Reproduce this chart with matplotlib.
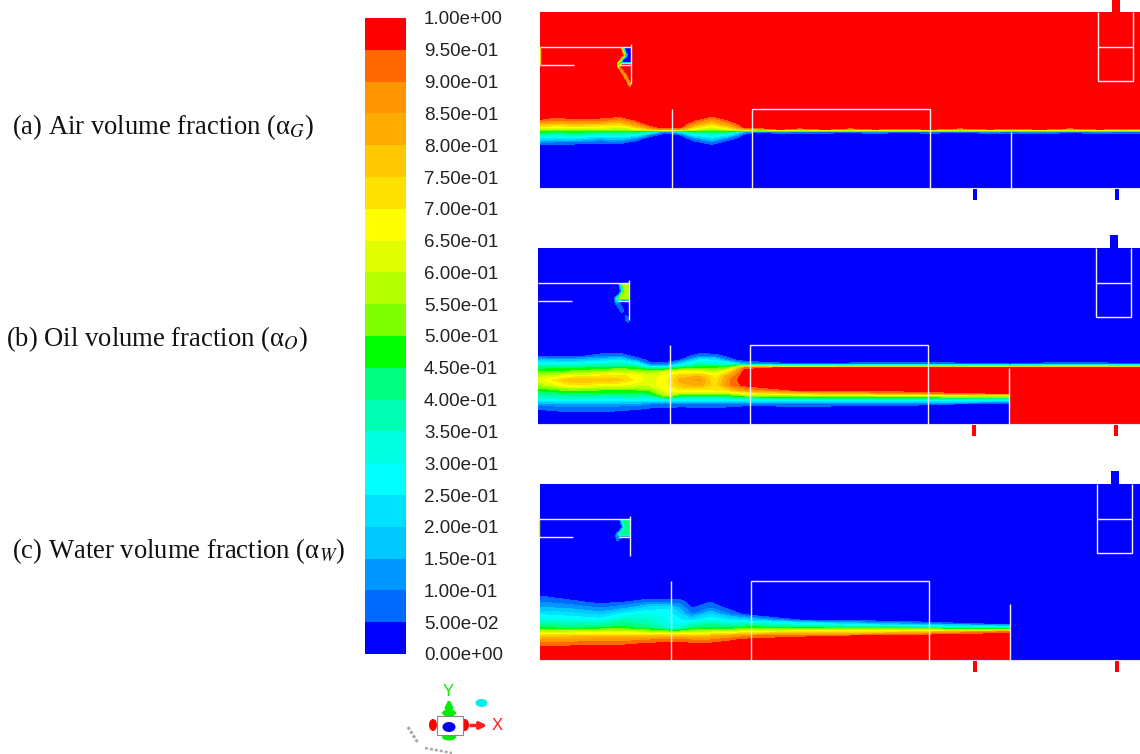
import numpy as np
import matplotlib
matplotlib.use("Agg")
import matplotlib.pyplot as plt
from matplotlib.patches import Rectangle, Ellipse

plt.rcParams["font.family"] = ["Liberation Serif", "DejaVu Serif"]
plt.rcParams["mathtext.fontset"] = "stix"

# contour bar
bar_labels = ["1.00e+00", "9.50e-01", "9.00e-01", "8.50e-01", "8.00e-01", "7.50e-01", "7.00e-01",
              "6.50e-01", "6.00e-01", "5.50e-01", "5.00e-01", "4.50e-01", "4.00e-01", "3.50e-01",
              "3.00e-01", "2.50e-01", "2.00e-01", "1.50e-01", "1.00e-01", "5.00e-02", "0.00e+00"]
# low to high
bar_colors = ["#0000ff", "#0069ff", "#0096ff", "#00c8ff", "#00e1ff", "#00ffff", "#00ffe1",
              "#00ffb4", "#00ff80", "#00ff00", "#80ff00", "#b4ff00", "#e1ff00", "#ffff00",
              "#ffe100", "#ffc800", "#ffaa00", "#ff9600", "#ff6900", "#ff0000"]
levels = [0.0, 0.05, 0.1, 0.15, 0.2, 0.25, 0.3, 0.35, 0.4, 0.45, 0.5,
          0.55, 0.6, 0.65, 0.7, 0.75, 0.8, 0.85, 0.9, 0.95, 1.0001]

# panel (a) air, one line per x station, values down the y rows
air_y = [12, 116, 120, 124, 127, 129, 130.5, 132, 135, 138, 142, 146, 188]
air_x = [540, 555, 575, 600, 620, 635, 650, 665, 680, 695, 712, 728, 745, 760, 780, 800,
         825, 850, 875, 900, 930, 960, 990, 1011, 1040, 1070, 1100, 1125, 1140]
air_field = [
    [1, 1, .94, .8, .68, .6, .52, .46, .36, .25, .12, .02, 0],
    [1, .97, .9, .78, .65, .57, .5, .44, .34, .23, .1, .02, 0],
    [1, 1, .93, .8, .67, .59, .52, .46, .36, .24, .09, .01, 0],
    [1, .98, .92, .78, .66, .58, .5, .43, .3, .17, .07, .01, 0],
    [1, .96, .87, .74, .62, .55, .48, .42, .32, .2, .08, .01, 0],
    [1, 1, .95, .86, .74, .64, .53, .44, .28, .13, .03, 0, 0],
    [1, 1, 1, .98, .9, .78, .55, .32, .1, 0, 0, 0, 0],
    [1, 1, 1, 1, 1, .9, .45, .08, 0, 0, 0, 0, 0],
    [1, 1, 1, 1, .98, .85, .5, .22, .04, 0, 0, 0, 0],
    [1, 1, .95, .86, .74, .64, .52, .44, .26, .12, .03, 0, 0],
    [1, .95, .85, .73, .62, .55, .49, .43, .32, .22, .1, .02, 0],
    [1, 1, .95, .86, .74, .64, .52, .42, .24, .1, .02, 0, 0],
    [1, 1, 1, 1, .97, .85, .5, .15, .01, 0, 0, 0, 0],
    [1, 1, 1, 1, 1, .85, .35, .05, 0, 0, 0, 0, 0],
    [1, 1, 1, 1, 1, .97, .55, .12, 0, 0, 0, 0, 0],
    [1, 1, 1, 1, 1, .88, .38, .08, 0, 0, 0, 0, 0],
    [1, 1, 1, 1, 1, .97, .5, .1, 0, 0, 0, 0, 0],
    [1, 1, 1, 1, 1, .88, .42, .05, 0, 0, 0, 0, 0],
    [1, 1, 1, 1, 1, .96, .55, .15, 0, 0, 0, 0, 0],
    [1, 1, 1, 1, 1, .9, .38, .05, 0, 0, 0, 0, 0],
    [1, 1, 1, 1, 1, .97, .5, .1, 0, 0, 0, 0, 0],
    [1, 1, 1, 1, 1, .88, .38, .05, 0, 0, 0, 0, 0],
    [1, 1, 1, 1, 1, .96, .52, .12, 0, 0, 0, 0, 0],
    [1, 1, 1, 1, 1, .9, .42, .08, 0, 0, 0, 0, 0],
    [1, 1, 1, 1, 1, .97, .55, .15, 0, 0, 0, 0, 0],
    [1, 1, 1, 1, 1, .88, .38, .06, 0, 0, 0, 0, 0],
    [1, 1, 1, 1, 1, .96, .52, .12, 0, 0, 0, 0, 0],
    [1, 1, 1, 1, 1, .9, .42, .08, 0, 0, 0, 0, 0],
    [1, 1, 1, 1, 1, .95, .48, .1, 0, 0, 0, 0, 0],
]

# panel (b) oil
oil_y = [248, 352, 356, 360, 364, 366, 368, 372, 376, 380, 385, 390, 393, 396, 400, 404, 408, 412, 416, 424]
oil_x = [538, 570, 600, 620, 637, 650, 668, 680, 700, 715, 730, 745, 800, 900, 1009, 1011, 1075, 1140]
oil_field = [
    [0, 0, .03, .18, .3, .38, .43, .5, .58, .62, .56, .46, .42, .38, .27, .12, .06, .03, .01, 0],
    [0, 0, .02, .15, .3, .38, .44, .52, .66, .8, .7, .52, .45, .38, .27, .14, .08, .05, .03, 0],
    [0, .02, .08, .2, .33, .4, .46, .56, .7, .8, .66, .5, .44, .38, .27, .14, .08, .05, .02, 0],
    [0, .02, .1, .24, .36, .42, .48, .6, .72, .76, .66, .5, .44, .38, .27, .13, .07, .04, .01, 0],
    [0, 0, .02, .1, .3, .38, .45, .58, .66, .68, .62, .5, .43, .37, .26, .12, .06, .03, 0, 0],
    [0, 0, 0, .02, .08, .2, .35, .55, .62, .62, .62, .52, .46, .38, .25, .1, .05, .02, 0, 0],
    [0, 0, 0, 0, .1, .2, .4, .62, .68, .7, .7, .68, .64, .55, .27, .1, .04, .01, 0, 0],
    [0, 0, 0, .05, .22, .33, .45, .66, .76, .82, .78, .7, .58, .42, .27, .1, .03, 0, 0, 0],
    [0, .02, .1, .26, .38, .43, .5, .66, .8, .86, .82, .7, .58, .42, .27, .1, .04, .01, 0, 0],
    [0, .01, .08, .24, .36, .42, .48, .58, .68, .7, .72, .7, .58, .42, .27, .1, .04, .01, 0, 0],
    [0, 0, .02, .08, .3, .42, .56, .74, .85, .9, .9, .75, .6, .44, .28, .1, .03, 0, 0, 0],
    [0, 0, 0, 0, .15, .6, .92, 1, 1, 1, .97, .86, .68, .5, .28, .08, .01, 0, 0, 0],
    [0, 0, 0, 0, .05, .5, .98, 1, 1, 1, 1, .97, .78, .52, .3, .1, .01, 0, 0, 0],
    [0, 0, 0, 0, .1, .55, .98, 1, 1, 1, 1, .98, .88, .56, .3, .08, 0, 0, 0, 0],
    [0, 0, 0, 0, .05, .5, .98, 1, 1, 1, 1, 1, .97, .6, .25, .02, 0, 0, 0, 0],
    [0, 0, 0, 0, .05, .5, 1, 1, 1, 1, 1, 1, 1, 1, 1, 1, 1, 1, 1, 1],
    [0, 0, 0, 0, .1, .6, 1, 1, 1, 1, 1, 1, 1, 1, 1, 1, 1, 1, 1, 1],
    [0, 0, 0, 0, .05, .5, 1, 1, 1, 1, 1, 1, 1, 1, 1, 1, 1, 1, 1, 1],
]

# panel (c) water
water_y = [484, 590, 596, 602, 608, 614, 620, 624, 628, 632, 636, 640, 644, 648, 652, 660]
water_x = [540, 570, 600, 625, 650, 668, 680, 692, 710, 730, 750, 800, 900, 1009, 1011, 1140]
water_field = [
    [0, 0, .05, .1, .16, .24, .33, .4, .46, .58, .75, .85, .92, .97, 1, 1],
    [0, 0, .01, .07, .14, .22, .3, .38, .44, .6, .78, .86, .93, .97, 1, 1],
    [0, 0, 0, .03, .1, .18, .28, .38, .46, .62, .78, .88, .94, .98, 1, 1],
    [0, 0, 0, .05, .14, .27, .38, .42, .47, .62, .78, .88, .94, .98, 1, 1],
    [0, 0, 0, .1, .22, .3, .35, .38, .42, .58, .78, .9, .96, 1, 1, 1],
    [0, 0, 0, .08, .24, .28, .3, .3, .34, .55, .8, .92, .97, 1, 1, 1],
    [0, 0, 0, .08, .14, .2, .26, .28, .34, .55, .8, .92, .97, 1, 1, 1],
    [0, 0, 0, .02, .05, .1, .22, .36, .44, .58, .78, .9, .96, 1, 1, 1],
    [0, 0, 0, .05, .1, .2, .3, .4, .46, .6, .8, .9, .96, 1, 1, 1],
    [0, 0, 0, 0, .03, .1, .24, .36, .45, .62, .85, .94, .98, 1, 1, 1],
    [0, 0, 0, 0, 0, .01, .2, .38, .48, .68, .9, .97, 1, 1, 1, 1],
    [0, 0, 0, 0, 0, 0, .05, .3, .46, .72, .93, 1, 1, 1, 1, 1],
    [0, 0, 0, 0, 0, 0, 0, .15, .42, .75, .97, 1, 1, 1, 1, 1],
    [0, 0, 0, 0, 0, 0, 0, .02, .35, .92, 1, 1, 1, 1, 1, 1],
    [0, 0, 0, 0, 0, 0, 0, 0, 0, 0, 0, 0, 0, 0, 0, 0],
    [0, 0, 0, 0, 0, 0, 0, 0, 0, 0, 0, 0, 0, 0, 0, 0],
]

# small pocket behind the baffle, one line per y row (positions as in panel a)
pocket_x = [616, 618.5, 621, 623.5, 626, 628.5, 631]
pocket_y = [47, 51, 55, 59, 62.5, 64.5, 67, 71, 75, 80, 85, 89]
air_pocket = [
    [1, 1, .8, .05, 0, 0, 0],
    [1, 1, 1, .5, 0, 0, 0],
    [1, 1, 1, .9, .2, 0, 0],
    [1, 1, .8, .05, 0, 0, 0],
    [1, .5, .05, 0, 0, 0, 0],
    [1, .3, .7, 1, 1, 1, 1],
    [1, .6, .95, 1, 1, 1, 1],
    [1, 1, .8, .9, 1, 1, 1],
    [1, 1, 1, .8, .85, 1, 1],
    [1, 1, 1, 1, .9, .85, 1],
    [1, 1, 1, 1, 1, .85, .8],
    [1, 1, 1, 1, 1, 1, 1],
]
oil_pocket = [
    [0, 0, .1, .55, .57, .57, .57],
    [0, 0, 0, .3, .57, .57, .57],
    [0, 0, 0, .08, .52, .57, .57],
    [0, 0, .1, .55, .57, .57, .57],
    [0, .25, .55, .57, .57, .57, .57],
    [0, .2, .15, 0, 0, 0, 0],
    [0, .12, .06, 0, 0, 0, 0],
    [0, 0, .1, .06, 0, 0, 0],
    [0, 0, 0, .08, .04, 0, 0],
    [0, 0, 0, 0, .03, .06, 0],
    [0, 0, 0, 0, 0, .06, .1],
    [0, 0, 0, 0, 0, 0, 0],
]
water_pocket = [
    [0, 0, .08, .38, .41, .41, .41],
    [0, 0, 0, .2, .41, .41, .41],
    [0, 0, 0, .06, .36, .41, .41],
    [0, 0, .08, .38, .41, .41, .41],
    [0, .15, .38, .41, .41, .41, .41],
    [0, .15, .08, 0, 0, 0, 0],
    [0, .1, .04, 0, 0, 0, 0],
    [0, 0, 0, 0, 0, 0, 0],
    [0, 0, 0, 0, 0, 0, 0],
    [0, 0, 0, 0, 0, 0, 0],
    [0, 0, 0, 0, 0, 0, 0],
    [0, 0, 0, 0, 0, 0, 0],
]

fig = plt.figure(figsize=(11.4, 7.54), dpi=100)
ax = fig.add_axes([0, 0, 1, 1])
ax.set_xlim(0, 1140)
ax.set_ylim(754, 0)
ax.axis("off")

# contour bar and its labels
bar_top, bar_bottom = 18, 654
step = (bar_bottom - bar_top) / 20
for i, c in enumerate(bar_colors):
    ax.add_patch(Rectangle((365, bar_bottom - (i + 1) * step), 41, step, fc=c, ec="none"))
for i, label in enumerate(bar_labels):
    ax.text(424, bar_top + i * step + 2, label, family="Liberation Sans", fontsize=13.5,
            color="#222222", va="center", ha="left")

# panels
panels = [
    (air_x, air_y, air_field, air_pocket, 0, 0, "#0000ff", "#ff0000", "#0000ff"),
    (oil_x, oil_y, oil_field, oil_pocket, -2, 236, "#ff0000", "#0000ff", "#ff0000"),
    (water_x, water_y, water_field, water_pocket, -1, 472, "#ff0000", "#0000ff", "#ff0000"),
]
line_c = "#f4f0fa"
for xs, ys, field, pocket, dx, dy, stub_c, top_c, right_c in panels:
    z = np.array(field).T
    ax.contourf(xs, ys, z, levels=levels, colors=bar_colors, antialiased=False, zorder=2)
    ax.contourf(np.array(pocket_x) + dx, np.array(pocket_y) + dy, np.array(pocket), levels=levels,
                colors=bar_colors, antialiased=False, zorder=3)

    # pipes above and below the tank
    ax.add_patch(Rectangle((1111.5 + dx, dy - 1), 8.5, 13, fc=top_c, ec="none", zorder=2))
    ax.add_patch(Rectangle((973 + dx + (1 if dy else 0), 188 + dy), 3.5, 12, fc=stub_c, ec="none", zorder=2))
    ax.add_patch(Rectangle((1115 + dx + (1 if dy else 0), 188 + dy), 4, 12, fc=right_c, ec="none", zorder=2))

    # internals, white outlines
    segs = [
        ([540, 631], [47, 47]), ([540, 574], [64.5, 64.5]), ([620, 631], [64.5, 64.5]),
        ([631, 631], [44, 84]), ([672, 672], [109, 188]),
        ([752, 752, 930, 930], [188, 109, 109, 188]), ([1011, 1011], [132, 188]),
        ([1098, 1098, 1133, 1133], [12, 81, 81, 12]), ([1098, 1133], [46.5, 46.5]),
    ]
    for sx, sy in segs:
        ax.plot(np.array(sx) + dx, np.array(sy) + dy, color=line_c, lw=1.0, zorder=4,
                solid_capstyle="butt", solid_joinstyle="miter")
    ax.plot([540 + dx, 1140], [188 + dy, 188 + dy], color="#e8e0ff", lw=0.8, zorder=4)

# inlet edge
ax.plot([540, 540], [47, 64], color="#ffc800", lw=1.0, zorder=4)
ax.plot([539, 539], [519, 536], color="#e1ff00", lw=1.0, zorder=4)

# left hand labels
ax.text(12, 127, "(a) Air volume fraction (α$_{G}$)", fontsize=19.2, va="center", color="#111111")
ax.text(6, 339, "(b) Oil volume fraction (α$_{O}$)", fontsize=19.2, va="center", color="#111111")
ax.text(12, 551, "(c) Water volume fraction (α$_{W}$)", fontsize=19.2, va="center", color="#111111")

# view triad
ax.add_patch(Ellipse((433, 725), 8, 12, fc="#ff0000", ec="none"))
ax.add_patch(Ellipse((465, 725), 8, 12, fc="#ff0000", ec="none"))
ax.add_patch(Ellipse((449, 713), 14, 7, fc="#00ee00", ec="none"))
ax.add_patch(Ellipse((449, 737), 14, 7, fc="#00ee00", ec="none"))
ax.add_patch(Rectangle((437, 716), 26, 19, fc="white", ec="#888888", lw=0.8, zorder=3))
ax.add_patch(Ellipse((449, 727), 13, 10, fc="#0000ee", ec="none", zorder=4))
ax.add_patch(Ellipse((481.5, 703), 12, 8, fc="#00eeee", ec="none"))
ax.annotate("", xy=(449, 696), xytext=(449, 716), arrowprops=dict(arrowstyle="-|>", color="#00ee00", lw=2.5))
ax.annotate("", xy=(490, 725.5), xytext=(468, 725.5), arrowprops=dict(arrowstyle="-|>", color="#ff2020", lw=2.5))
ax.text(448.5, 691, "Y", family="Liberation Sans", fontsize=12, color="#00ee00", ha="center", va="center")
ax.text(497, 726, "X", family="Liberation Sans", fontsize=12, color="#ff2020", ha="center", va="center")
ax.plot([408, 418], [727, 743], color="#aaaaaa", lw=2.2, ls=(0, (1.0, 0.6)))
ax.plot([425, 452], [748, 753], color="#aaaaaa", lw=1.8, ls=(0, (1.2, 0.8)))

fig.savefig("out.png", dpi=100)
